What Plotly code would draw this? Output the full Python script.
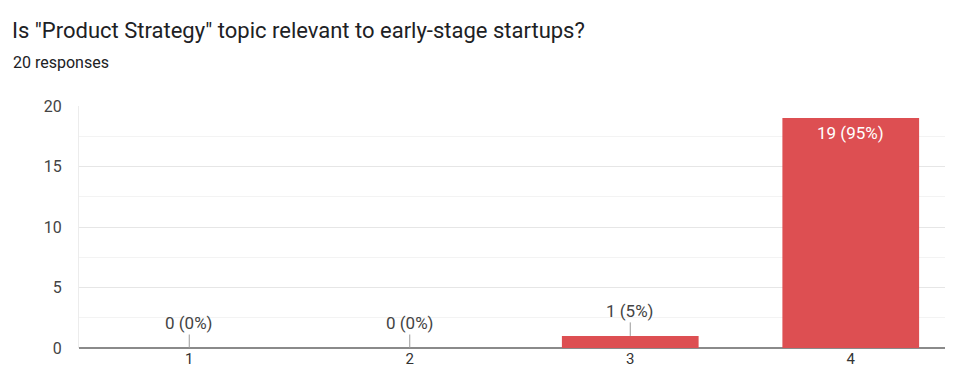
import plotly.graph_objects as go

categories = [1, 2, 3, 4]
counts = [0, 0, 1, 19]
labels = ["0 (0%)", "0 (0%)", "1 (5%)", "19 (95%)"]
y_ticks = [0, 5, 10, 15, 20]

# page body has an 8px margin; compensate
OFF = 8
W, H = 953 - OFF, 373 - OFF
L, R, T, B = 79 - OFF, 0, 106 - OFF, 25
pw = W - L - R
ph = H - T - B

bar_color = "#dd4f52"
FONT = "Roboto, Arial"

fig = go.Figure()
fig.add_trace(go.Bar(
    x=categories, y=counts, width=0.62, marker=dict(color=bar_color, line=dict(width=0)),
    hoverinfo="skip",
))

for c, v, t in zip(categories, counts, labels):
    if v >= 10:
        fig.add_annotation(x=c, y=v, text=t, showarrow=False, yanchor="top", yshift=-3,
                           font=dict(family=FONT, size=17, color="#ffffff"))
    else:
        fig.add_annotation(x=c, y=v, text=t, showarrow=True, arrowhead=0, arrowwidth=1,
                           arrowcolor="#9a9a9a", ax=0, ay=-25, standoff=0,
                           font=dict(family=FONT, size=17, color="#444444"))

fig.add_annotation(xref="paper", yref="paper", x=(12 - OFF - L) / pw, y=(H + OFF - B - 54) / ph - OFF / ph,
                   xanchor="left", yanchor="middle", text="20 responses", showarrow=False,
                   xshift=-1,
                   font=dict(family=FONT, size=16, color="#202124"))

fig.update_layout(
    width=W, height=H,
    margin=dict(l=L, r=R, t=T, b=B, pad=0, autoexpand=False),
    paper_bgcolor="white", plot_bgcolor="white",
    showlegend=False,
    title=dict(text='Is "Product Strategy" topic relevant to early-stage startups?',
               xref="container", yref="container", x=(12 - OFF) / W, y=1 - (30 - OFF) / H,
               xanchor="left", yanchor="middle",
               font=dict(family=FONT, size=22, color="#202124")),
    xaxis=dict(range=[0.5, 0.5 + pw / 220.5], tickvals=categories, ticktext=[str(c) for c in categories],
               showgrid=False, zeroline=False, showline=False, ticks="", ticklen=0,
               automargin=False,
               tickfont=dict(family=FONT, size=15, color="#333333")),
    yaxis=dict(range=[0, 20], tickvals=y_ticks, showgrid=True, gridcolor="#e6e6e6", gridwidth=1,
               minor=dict(dtick=2.5, showgrid=True, gridcolor="#f3f3f3", gridwidth=1),
               zeroline=True, zerolinecolor="#8a8a8a", zerolinewidth=2,
               showline=True, linecolor="#ececec", linewidth=1, automargin=False,
               ticks="outside", ticklen=13, tickcolor="rgba(0,0,0,0)",
               tickfont=dict(family=FONT, size=16, color="#444444")),
    bargap=0.38,
)

fig.write_html("out.html")
